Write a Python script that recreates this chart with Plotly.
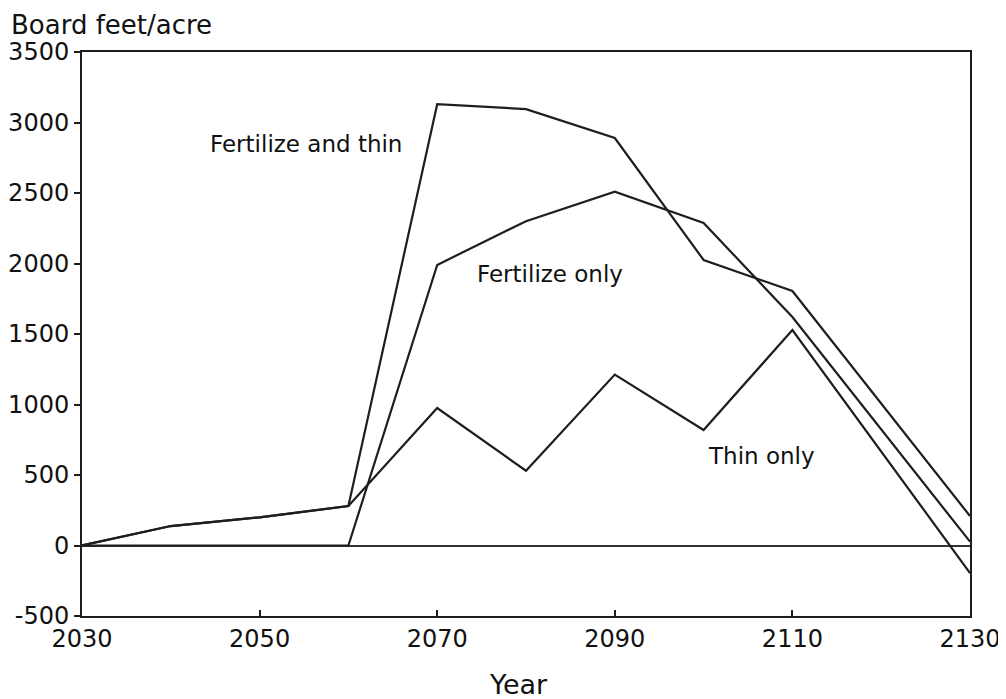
import plotly.graph_objects as go

years = [2030, 2040, 2050, 2060, 2070, 2080, 2090, 2100, 2110, 2130]
fertilize_and_thin = [0, 138, 200, 280, 3130, 3095, 2890, 2025, 1805, 209]
fertilize_only = [0, 0, 0, 0, 1990, 2300, 2510, 2288, 1620, 27]
thin_only = [0, 138, 200, 280, 975, 530, 1212, 819, 1528, -195]

x_ticks = [2030, 2050, 2070, 2090, 2110, 2130]
y_ticks = [-500, 0, 500, 1000, 1500, 2000, 2500, 3000, 3500]
y_tick_text = ["-500", "0", "500", "1000", "1500", "2000", "2500", "3000", "3500"]

labels = [
    ("Fertilize and thin", 2055.2, 2848),
    ("Fertilize only", 2082.7, 1926),
    ("Thin only", 2106.5, 638),
]

LINE = "#1e1e1e"
FONT = "DejaVu Sans, sans-serif"
TICKFONT = dict(family=FONT, size=24, color="#111")
TEXTFONT = dict(family=FONT, size=23, color="#111")

fig = go.Figure()
for name, ys in [("Fertilize and thin", fertilize_and_thin),
                 ("Fertilize only", fertilize_only),
                 ("Thin only", thin_only)]:
    fig.add_trace(go.Scatter(x=years, y=ys, mode="lines", name=name,
                             line=dict(color=LINE, width=2.2), showlegend=False))

for text, xv, yv in labels:
    fig.add_annotation(x=xv, y=yv, xref="x", yref="y", text=text, showarrow=False,
                       font=TEXTFONT, xanchor="center", yanchor="middle")

fig.add_annotation(x=0, y=1, xref="paper", yref="paper", xshift=-73, yshift=10,
                   text="Board feet/acre", showarrow=False,
                   font=dict(family=FONT, size=26, color="#111"),
                   xanchor="left", yanchor="bottom")
fig.add_annotation(x=0.491, y=0, xref="paper", yref="paper", yshift=-51,
                   text="Year", showarrow=False,
                   font=dict(family=FONT, size=27, color="#111"),
                   xanchor="center", yanchor="top")

fig.update_xaxes(range=[2030, 2130], tickvals=x_ticks, ticks="inside", ticklen=6,
                 tickwidth=1.5, tickcolor=LINE, showgrid=False, zeroline=False,
                 showline=True, linecolor=LINE, linewidth=2, mirror=True,
                 tickfont=TICKFONT, automargin=False)
fig.update_yaxes(range=[-500, 3500], tickvals=y_ticks, ticktext=y_tick_text,
                 ticks="outside", ticklen=6,
                 tickwidth=1.5, tickcolor=LINE, showgrid=False, zeroline=True,
                 zerolinecolor="#333", zerolinewidth=2,
                 showline=True, linecolor=LINE, linewidth=2, mirror=True,
                 tickfont=TICKFONT, ticklabelstandoff=0, automargin=False)

# page body adds an 8px margin, so the figure is sized to fit the 1006x699 window
fig.update_layout(width=998, height=691, plot_bgcolor="white", paper_bgcolor="white",
                  margin=dict(l=74, r=36, t=44, b=83))

fig.write_html("out.html")
